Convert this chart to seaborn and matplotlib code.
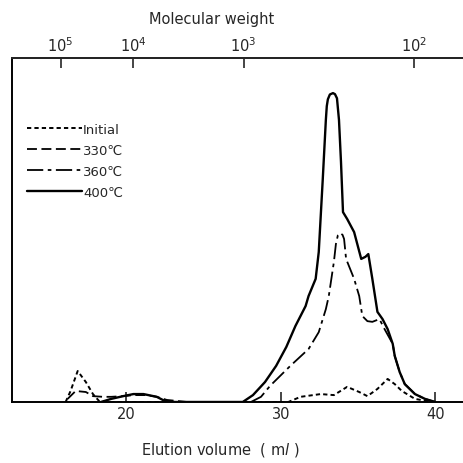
import matplotlib
matplotlib.use("Agg")
import matplotlib.pyplot as plt
import seaborn as sns
import pandas as pd

# ---- data (elution volume in ml, relative detector response 0-100) ----
x_initial = [16.07, 16.39, 16.85, 17.38, 17.84, 18.23, 18.69, 30.49, 31.28, 32.59, 33.44,
             34.30, 35.08, 35.61, 36.26, 36.92, 37.38, 37.84, 38.69, 39.80]
y_initial = [0.0, 3.2, 9.0, 5.8, 2.3, 0.3, 0.0, 0.0, 1.5, 2.3, 2.0,
             4.4, 2.9, 1.7, 3.8, 6.7, 5.2, 3.2, 0.9, 0.0]

x_330 = [16.20, 16.72, 17.38, 17.84, 18.49, 19.02, 19.80, 20.46, 21.31, 21.97, 22.62, 23.28, 23.93]
y_330 = [0.9, 3.2, 2.9, 1.7, 1.5, 1.5, 1.7, 2.0, 2.0, 1.5, 0.6, 0.3, 0.0]

x_360 = [28.07, 28.72, 29.31, 30.62, 31.80, 32.46, 32.92, 33.11, 33.44, 33.57, 33.70, 33.84,
         34.00, 34.10, 34.23, 34.75, 35.08, 35.28, 35.61, 35.93, 36.39, 36.72,
         37.25, 37.38, 37.70, 38.03, 38.69, 39.34, 40.00]
y_360 = [0.0, 1.5, 4.7, 10.5, 15.4, 20.3, 27.0, 30.8, 40.7, 45.9, 48.5, 49.1,
         48.6, 47.4, 41.6, 35.8, 30.8, 25.0, 23.5, 23.3, 24.1, 21.2,
         16.9, 13.4, 8.7, 5.2, 2.3, 0.9, 0.0]

x_400 = [18.36, 19.02, 19.80, 20.46, 21.11, 21.97, 22.49, 23.15, 27.54, 28.20, 28.98,
         29.70, 30.36, 30.95, 31.61, 31.80, 32.26, 32.46, 32.72, 32.92, 32.98, 33.05,
         33.18, 33.38, 33.51, 33.64, 33.77, 33.90, 34.03, 34.30, 34.75, 35.21, 35.48,
         35.67, 35.93, 36.26, 36.59, 36.92, 37.25, 37.38, 37.70, 38.03, 38.69, 39.34, 40.00]
y_400 = [0.0, 0.9, 1.7, 2.3, 2.3, 1.5, 0.3, 0.0, 0.0, 2.0, 5.8,
         10.5, 16.0, 22.1, 27.9, 30.8, 35.8, 43.6, 64.8, 82.0, 86.0, 88.0,
         89.4, 89.8, 89.5, 88.3, 82.0, 69.8, 55.2, 53.2, 49.4, 41.6, 42.2,
         43.0, 35.8, 26.2, 24.1, 21.2, 16.9, 13.4, 8.7, 5.2, 2.3, 0.9, 0.0]

series_labels = ["Initial", "330℃", "360℃", "400℃"]
x_ticks = [20, 30, 40]
mw_tick_pos = [15.74, 20.46, 27.6, 38.62]
mw_tick_labels = ["10$^5$", "10$^4$", "10$^3$", "10$^2$"]

sns.set_style("white")
plt.rcParams["font.family"] = ["DejaVu Sans", "Noto Sans CJK SC"]

fig = plt.figure(figsize=(4.63, 4.64), dpi=100)
ax = fig.add_axes([0.026, 0.1315, 0.994, 0.8728 - 0.1315])

styles = [
    dict(dashes=(2.2, 1.6), lw=1.4),
    dict(dashes=(5.5, 2.5), lw=1.3),
    dict(dashes=(9, 2.5, 2, 2.5), lw=1.3),
    dict(dashes=(), lw=1.7),
]
datasets = [(x_initial, y_initial), (x_330, y_330), (x_360, y_360), (x_400, y_400)]
for (xs, ys), lab, st in zip(datasets, series_labels, styles):
    df = pd.DataFrame({"x": xs, "y": ys})
    sns.lineplot(data=df, x="x", y="y", ax=ax, color="black", sort=False,
                 estimator=None, label=lab, lw=st["lw"])
    l = ax.get_lines()[-1]
    if st["dashes"]:
        l.set_dashes(st["dashes"])

ax.set_xlim(12.6, 42.4)
ax.set_ylim(0, 100)
ax.set_yticks([])
ax.set_xticks(x_ticks)
ax.set_xticklabels([str(t) for t in x_ticks], fontsize=10.5)
ax.tick_params(axis="x", direction="in", length=7, width=1.2, pad=3, bottom=True)
ax.set_xlabel("")
ax.set_ylabel("")
for s in ["left", "bottom", "top"]:
    ax.spines[s].set_linewidth(1.4)
    ax.spines[s].set_color("black")
ax.spines["right"].set_visible(False)

top = ax.twiny()
top.set_xlim(ax.get_xlim())
top.set_xticks(mw_tick_pos)
top.set_xticklabels(mw_tick_labels, fontsize=10.5)
top.tick_params(axis="x", direction="in", length=7, width=1.2, pad=3, top=True)
for s in ["left", "bottom", "right"]:
    top.spines[s].set_visible(False)
top.spines["top"].set_linewidth(1.4)

fig.text(0.458, 0.957, "Molecular weight", ha="center", va="center", fontsize=10.5)
fig.text(0.475, 0.03, "Elution volume  ( m$l$ )", ha="center", va="center", fontsize=10.5)

leg = ax.legend(loc="upper left", bbox_to_anchor=(27 / 463, 1 - 124 / 464),
                bbox_transform=fig.transFigure, frameon=False, fontsize=9.5,
                handlelength=4.2, handletextpad=0.05, labelspacing=0.6,
                borderpad=0, borderaxespad=0)
for h, st in zip(leg.get_lines(), styles):
    if st["dashes"]:
        h.set_dashes(st["dashes"])

fig.savefig("out.png", dpi=100)
